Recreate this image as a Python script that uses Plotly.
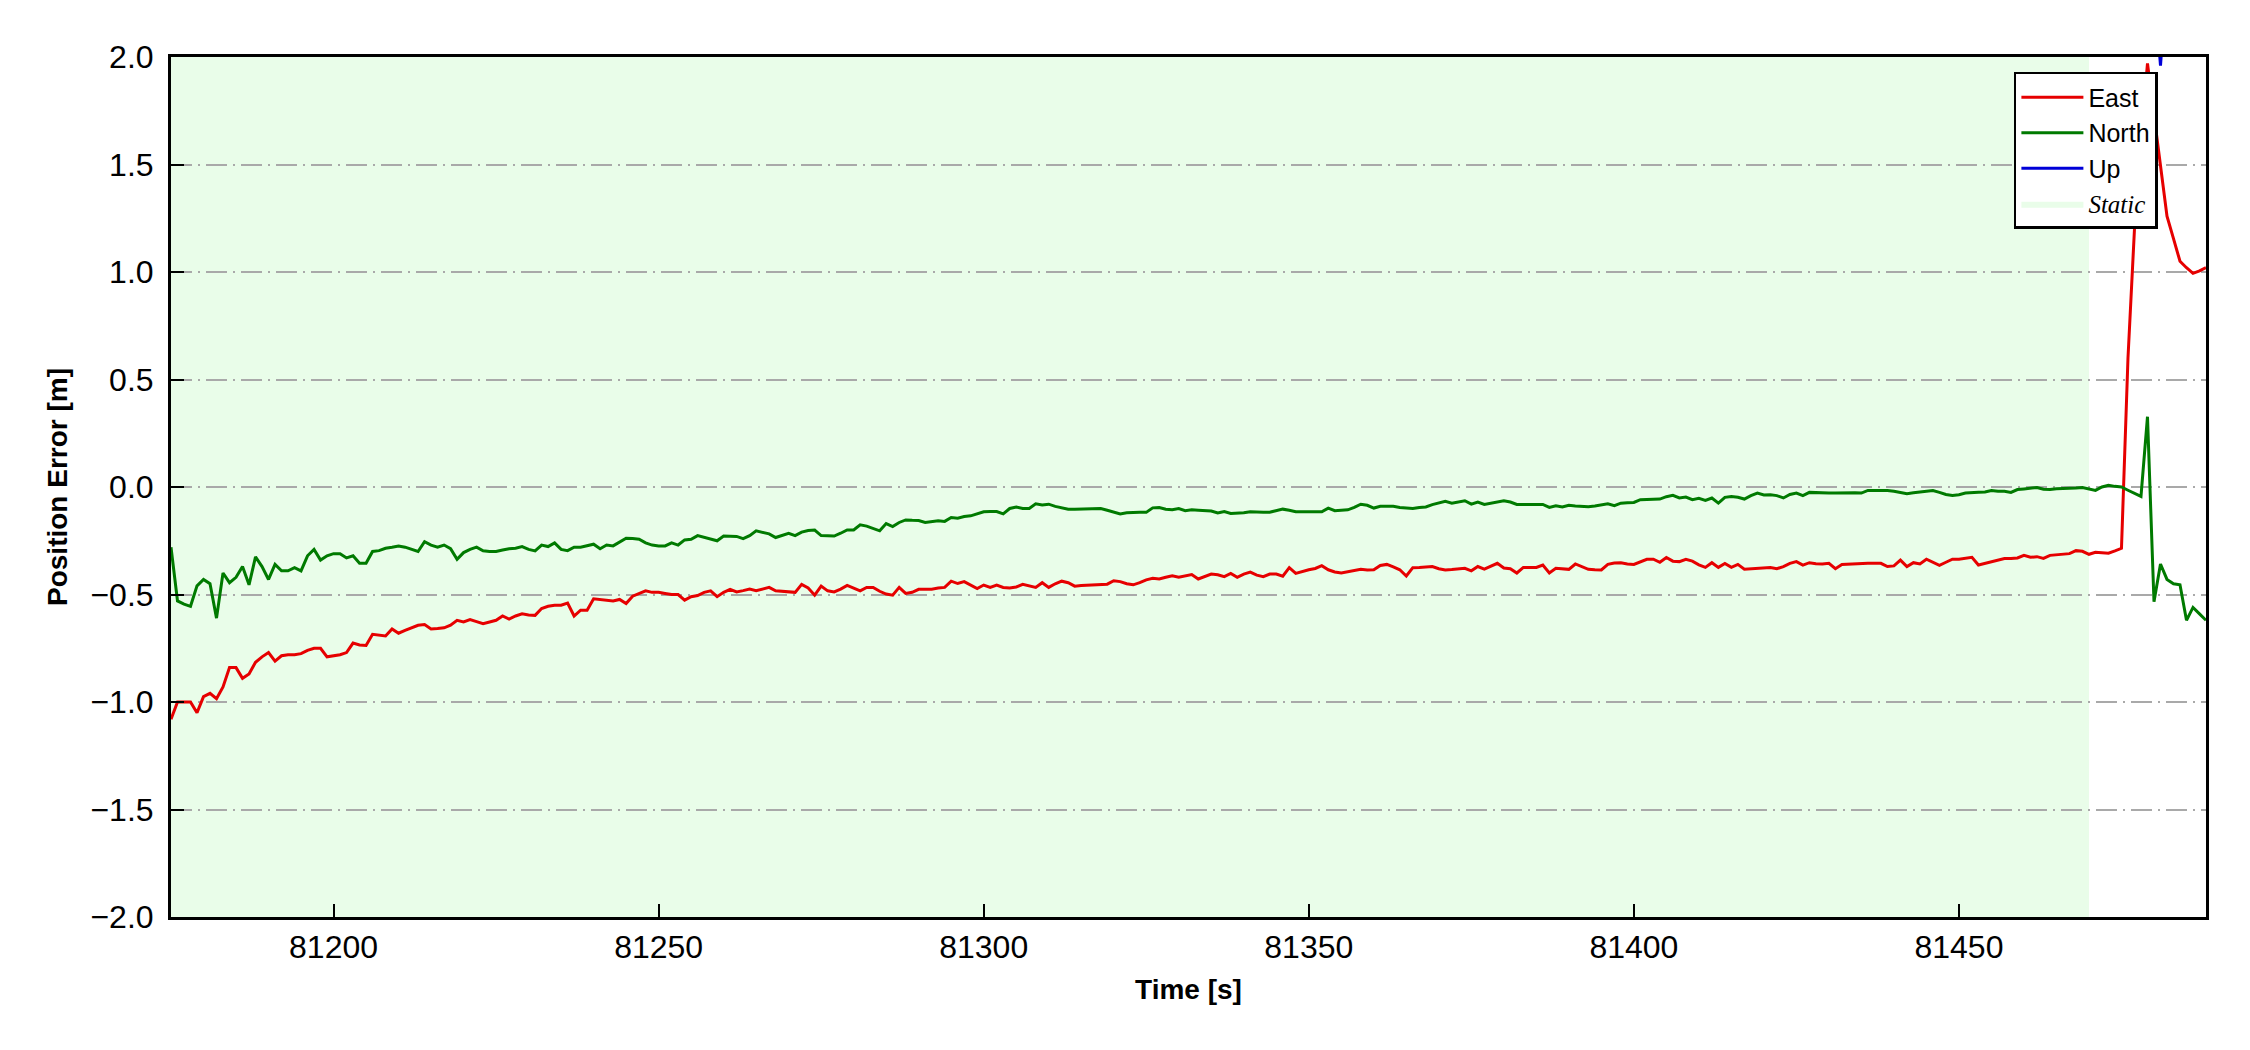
import plotly.graph_objects as go

# ---------------- data ----------------
time = list(range(81175, 81489))  # 1 Hz epochs [s]

east = [
    -1.08, -1.00, -1.00, -1.00, -1.05, -0.975, -0.96, -0.985, -0.93, -0.84,
    -0.84, -0.89, -0.87, -0.815, -0.79, -0.77, -0.81, -0.785, -0.78, -0.78,
    -0.775, -0.76, -0.75, -0.75, -0.79, -0.785, -0.78, -0.77, -0.726, -0.735,
    -0.737, -0.685, -0.69, -0.693, -0.66, -0.68, -0.667, -0.655, -0.643, -0.64,
    -0.66, -0.658, -0.655, -0.643, -0.62, -0.628, -0.617, -0.626, -0.636, -0.628,
    -0.62, -0.60, -0.614, -0.60, -0.59, -0.595, -0.597, -0.565, -0.555, -0.55,
    -0.55, -0.54, -0.60, -0.573, -0.573, -0.52, -0.523, -0.525, -0.53, -0.523,
    -0.542, -0.508, -0.495, -0.483, -0.49, -0.49, -0.495, -0.50, -0.50, -0.526,
    -0.51, -0.505, -0.49, -0.483, -0.51, -0.49, -0.476, -0.488, -0.482, -0.475,
    -0.482, -0.475, -0.467, -0.483, -0.486, -0.488, -0.49, -0.453, -0.47, -0.503,
    -0.461, -0.483, -0.488, -0.475, -0.458, -0.47, -0.483, -0.467, -0.467, -0.485,
    -0.498, -0.503, -0.467, -0.495, -0.49, -0.476, -0.476, -0.475, -0.47, -0.467,
    -0.438, -0.449, -0.44, -0.455, -0.472, -0.456, -0.467, -0.456, -0.467, -0.47,
    -0.465, -0.453, -0.46, -0.467, -0.445, -0.467, -0.45, -0.438, -0.445, -0.461,
    -0.458, -0.456, -0.455, -0.454, -0.452, -0.436, -0.44, -0.45, -0.455, -0.445,
    -0.432, -0.425, -0.428, -0.42, -0.413, -0.42, -0.415, -0.407, -0.428, -0.415,
    -0.405, -0.408, -0.417, -0.402, -0.42, -0.405, -0.396, -0.41, -0.417, -0.405,
    -0.405, -0.415, -0.375, -0.402, -0.392, -0.385, -0.379, -0.366, -0.385, -0.395,
    -0.40, -0.395, -0.39, -0.383, -0.386, -0.385, -0.365, -0.36, -0.372, -0.385,
    -0.414, -0.375, -0.374, -0.372, -0.37, -0.38, -0.386, -0.384, -0.382, -0.378,
    -0.39, -0.37, -0.382, -0.368, -0.355, -0.377, -0.38, -0.40, -0.374, -0.374,
    -0.374, -0.363, -0.40, -0.378, -0.38, -0.383, -0.358, -0.37, -0.383, -0.385,
    -0.386, -0.36, -0.354, -0.352, -0.358, -0.36, -0.347, -0.336, -0.336, -0.35,
    -0.328, -0.345, -0.347, -0.336, -0.345, -0.362, -0.374, -0.352, -0.374, -0.356,
    -0.374, -0.36, -0.382, -0.38, -0.376, -0.374, -0.374, -0.38, -0.37, -0.355,
    -0.347, -0.363, -0.352, -0.357, -0.358, -0.355, -0.38, -0.36, -0.358, -0.358,
    -0.356, -0.355, -0.355, -0.355, -0.37, -0.367, -0.34, -0.37, -0.352, -0.358,
    -0.336, -0.35, -0.364, -0.35, -0.336, -0.336, -0.333, -0.327, -0.363, -0.355,
    -0.348, -0.338, -0.333, -0.333, -0.33, -0.318, -0.327, -0.324, -0.332, -0.318,
    -0.315, -0.313, -0.31, -0.296, -0.299, -0.313, -0.304, -0.306, -0.308, -0.297,
    -0.285, 0.6, 1.2, 1.62, 1.97, 1.73, 1.49, 1.26, 1.155, 1.05,
    1.02, 0.994, 1.005, 1.02,
]

north = [
    -0.28, -0.53, -0.545, -0.555, -0.46, -0.43, -0.45, -0.61, -0.40, -0.445,
    -0.42, -0.37, -0.455, -0.325, -0.37, -0.43, -0.36, -0.39, -0.39, -0.375,
    -0.39, -0.32, -0.29, -0.34, -0.32, -0.31, -0.31, -0.33, -0.32, -0.355,
    -0.355, -0.30, -0.296, -0.285, -0.28, -0.274, -0.28, -0.29, -0.30, -0.254,
    -0.27, -0.28, -0.27, -0.287, -0.336, -0.305, -0.29, -0.28, -0.297, -0.30,
    -0.30, -0.293, -0.287, -0.285, -0.277, -0.29, -0.297, -0.27, -0.277, -0.26,
    -0.29, -0.296, -0.28, -0.28, -0.274, -0.266, -0.287, -0.27, -0.274, -0.255,
    -0.238, -0.24, -0.243, -0.26, -0.27, -0.274, -0.274, -0.26, -0.27, -0.246,
    -0.243, -0.226, -0.233, -0.24, -0.25, -0.228, -0.228, -0.23, -0.24, -0.226,
    -0.204, -0.21, -0.218, -0.235, -0.225, -0.215, -0.226, -0.21, -0.202, -0.20,
    -0.226, -0.228, -0.228, -0.215, -0.20, -0.20, -0.176, -0.182, -0.192, -0.204,
    -0.17, -0.184, -0.165, -0.153, -0.155, -0.156, -0.165, -0.16, -0.157, -0.16,
    -0.142, -0.145, -0.137, -0.134, -0.125, -0.115, -0.114, -0.114, -0.125, -0.10,
    -0.093, -0.10, -0.10, -0.078, -0.084, -0.08, -0.09, -0.098, -0.103, -0.103,
    -0.103, -0.103, -0.10, -0.10, -0.108, -0.115, -0.125, -0.12, -0.118, -0.118,
    -0.118, -0.097, -0.095, -0.103, -0.106, -0.10, -0.11, -0.106, -0.108, -0.11,
    -0.112, -0.121, -0.114, -0.123, -0.123, -0.12, -0.115, -0.118, -0.118, -0.117,
    -0.11, -0.103, -0.108, -0.115, -0.115, -0.115, -0.115, -0.115, -0.098, -0.11,
    -0.108, -0.106, -0.095, -0.08, -0.085, -0.098, -0.09, -0.09, -0.09, -0.095,
    -0.098, -0.10, -0.095, -0.093, -0.082, -0.075, -0.067, -0.075, -0.07, -0.064,
    -0.08, -0.07, -0.081, -0.075, -0.067, -0.064, -0.07, -0.081, -0.081, -0.081,
    -0.081, -0.081, -0.095, -0.087, -0.093, -0.085, -0.088, -0.09, -0.092, -0.088,
    -0.083, -0.078, -0.087, -0.075, -0.073, -0.072, -0.059, -0.058, -0.057, -0.056,
    -0.045, -0.039, -0.051, -0.047, -0.059, -0.053, -0.062, -0.051, -0.075, -0.048,
    -0.044, -0.048, -0.056, -0.04, -0.028, -0.037, -0.036, -0.04, -0.051, -0.035,
    -0.028, -0.04, -0.025, -0.027, -0.028, -0.028, -0.028, -0.027, -0.025, -0.027,
    -0.028, -0.016, -0.016, -0.016, -0.016, -0.02, -0.026, -0.031, -0.027, -0.023,
    -0.018, -0.016, -0.025, -0.035, -0.039, -0.036, -0.028, -0.025, -0.024, -0.023,
    -0.016, -0.02, -0.02, -0.025, -0.012, -0.009, -0.006, -0.002, -0.01, -0.012,
    -0.008, -0.008, -0.008, -0.005, -0.002, -0.01, -0.016, 0.0, 0.008, 0.003,
    0.0, -0.015, -0.03, -0.044, 0.327, -0.534, -0.358, -0.43, -0.45, -0.455,
    -0.62, -0.56, -0.59, -0.62,
]

up_time = list(range(81470, 81489))
up = [2.85, 2.8, 2.78, 2.75, 2.7, 2.6, 2.9, 3.4, 3.1, 2.7,
      2.35, 1.96, 2.45, 2.8, 3.0, 3.1, 3.05, 3.1, 3.15]

static_start = 81175
static_end = 81470

x_range = [81175, 81488]
x_ticks = [81200, 81250, 81300, 81350, 81400, 81450]
y_ticks = [-2.0, -1.5, -1.0, -0.5, 0.0, 0.5, 1.0, 1.5, 2.0]
y_ticklabels = ["\u22122.0", "\u22121.5", "\u22121.0", "\u22120.5", "0.0",
                "0.5", "1.0", "1.5", "2.0"]

# ---------------- styles ----------------
C_EAST = "#e60000"
C_NORTH = "#007a00"
C_UP = "#0000d8"
C_STATIC = "rgb(233,253,233)"
FONT = "Liberation Sans, Arial, sans-serif"

fig = go.Figure()
fig.add_trace(go.Scatter(x=time, y=east, mode="lines", name="East",
                         line=dict(color=C_EAST, width=3)))
fig.add_trace(go.Scatter(x=time, y=north, mode="lines", name="North",
                         line=dict(color=C_NORTH, width=3)))
fig.add_trace(go.Scatter(x=up_time, y=up, mode="lines", name="Up",
                         line=dict(color=C_UP, width=3)))
fig.add_trace(go.Scatter(x=[None], y=[None], mode="lines", fill="toself",
                         fillcolor=C_STATIC, line=dict(width=0, color=C_STATIC),
                         name='<span style="font-family:Liberation Serif, Times New Roman, serif;"><i>Static</i></span>'))

fig.add_shape(type="rect", xref="x", yref="paper", x0=static_start, x1=static_end,
              y0=0, y1=1, fillcolor=C_STATIC, line=dict(width=0), layer="below")

fig.update_layout(
    width=2234, height=1034,
    margin=dict(l=163, r=36, t=49, b=125),
    paper_bgcolor="white", plot_bgcolor="white",
    font=dict(family=FONT, color="black", size=32),
    showlegend=True,
    legend=dict(x=0.9056, y=0.9826, xanchor="left", yanchor="top",
                bgcolor="white", bordercolor="black", borderwidth=2.5,
                font=dict(family=FONT, size=25, color="black"),
                itemwidth=62, tracegroupgap=0),
)

fig.update_xaxes(
    range=x_range, tickvals=x_ticks, ticktext=[str(v) for v in x_ticks],
    showgrid=False, zeroline=False,
    showline=True, linecolor="black", linewidth=3, mirror=True,
    ticks="inside", ticklen=13, tickwidth=2, tickcolor="black",
    tickfont=dict(family=FONT, size=32, color="black"),
    title=dict(text="<b>Time [s]</b>", font=dict(family=FONT, size=28, color="black"),
               standoff=15),
)
fig.update_yaxes(
    range=[-2, 2], tickvals=y_ticks, ticktext=y_ticklabels,
    showgrid=True, gridcolor="#a9a9a9", gridwidth=2, griddash="21px,6px,2px,6px",
    zeroline=False,
    showline=True, linecolor="black", linewidth=3, mirror=True,
    ticks="inside", ticklen=13, tickwidth=2, tickcolor="black",
    ticklabelstandoff=8,
    tickfont=dict(family=FONT, size=32, color="black"),
    title=dict(text="<b>Position Error [m]</b>", font=dict(family=FONT, size=28, color="black"),
               standoff=15),
)

fig.write_html("out.html")
